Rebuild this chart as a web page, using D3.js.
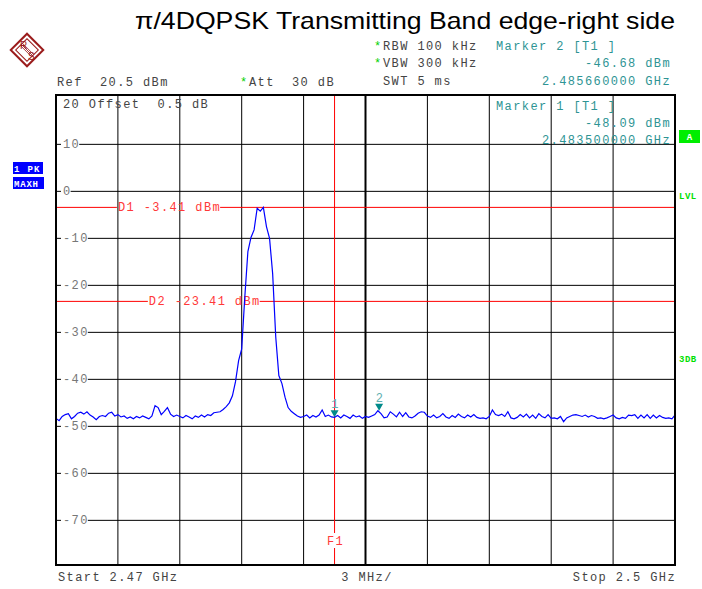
<!DOCTYPE html>
<html><head><meta charset="utf-8">
<script src="https://cdn.jsdelivr.net/npm/d3@7"></script>
<style>body{margin:0;background:#fff}</style>
</head><body><svg id="c" width="702" height="589"></svg>
<script>
// ---- data ----
const startGHz = 2.47, stopGHz = 2.5, refLevel = 20.5, bottomLevel = -79.5;
const freqGrid = [2.47, 2.473, 2.476, 2.479, 2.482, 2.485, 2.488, 2.491, 2.494, 2.497, 2.5];
const levelTicks = [10, 0, -10, -20, -30, -40, -50, -60, -70];
const levelTickLabels = ["10", "0", "-10", "-20", "-30", "-40", "-50", "-60", "-70"];
const traceLevels = [
-48.3,-48.8,-47.9,-47.5,-47.3,-48.4,-47.9,-47.2,-47.0,-47.4,
-46.9,-47.6,-48.0,-48.6,-47.9,-47.7,-47.9,-47.2,-47.0,-47.8,
-47.5,-48.0,-47.8,-48.3,-48.0,-48.4,-47.9,-48.2,-47.8,-48.1,
-48.4,-47.8,-45.6,-46.0,-47.5,-46.8,-46.0,-47.4,-47.9,-47.6,
-47.9,-48.2,-47.7,-48.0,-48.4,-47.8,-48.1,-47.6,-48.0,-47.5,
-47.7,-47.1,-47.0,-46.9,-46.4,
-45.8,-45.0,-43.5,-40.5,-36.0,-33.5,-22.5,-12.8,-9.8,-8.2,
-3.6,-4.2,-3.41,-7.5,-10.0,-17.5,-31.0,-39.2,-40.9,-43.8,
-46.0,-46.8,-47.3,-47.8,-48.1,-47.9,
-47.6,-48.2,-47.7,-48.0,-47.6,-46.5,-47.9,-47.6,-48.0,-48.09,
-47.7,-48.2,-47.6,-47.9,-48.3,-47.6,-48.0,-47.8,-48.3,-47.9,
-48.1,-47.8,-47.5,-46.68,-47.3,-48.2,-48.0,-46.9,-47.4,-48.0,
-47.0,-47.9,-47.1,-48.0,-48.2,-47.8,-47.2,-46.9,-47.0,-47.8,
-48.1,-47.6,-48.2,-47.9,-47.3,-48.0,-48.3,-47.7,-48.1,-47.4,
-47.9,-48.2,-47.6,-48.0,-47.5,
-48.1,-48.3,-48.2,-48.4,-47.9,-46.5,-47.5,-47.7,-47.4,-47.9,
-46.9,-48.2,-48.4,-48.1,-47.5,-48.0,-47.4,-48.2,-47.6,-48.3,
-47.3,-47.9,-48.2,-47.5,-48.3,-48.2,-48.4,-47.9,-49.0,-48.2,
-47.9,-47.6,-47.5,-47.7,-47.9,-47.6,-48.0,-47.7,-47.9,-48.3,
-48.2,-48.4,-48.2,-47.9,-47.6,-48.2,-48.4,-48.1,-48.3,-47.6,
-47.7,-47.5,-48.3,-47.6,-48.2,-47.5,-48.3,-47.6,-48.2,-47.7,
-48.1,-48.3,-48.2,-48.4,-47.6
];
const displayLineNames = ["D1", "D2"];
const displayLineLevels = [-3.41, -23.41];
const displayLineLabelFreq = [2.473, 2.4745];
const markerNumbers = [1, 2];
const markerFreqs = [2.4835, 2.48566];
const markerLevels = [-48.09, -46.68];
const freqLineName = "F1";
const freqLineValue = 2.4835;
const title = "π/4DQPSK Transmitting Band edge-right side";

// ---- layout ----
const svg = d3.select("#c");
const L = 56, R = 675, T = 95, B = 565;
const x = d3.scaleLinear().domain([startGHz, stopGHz]).range([L, R]);
const y = d3.scaleLinear().domain([refLevel, bottomLevel]).range([T, B]);
const mono = "'Liberation Mono', 'DejaVu Sans Mono', monospace";
const GRAY = "#444", TEAL = "#2e9494", RED = "#ff0000", LRED = "#ff3838";

function mtext(tx, ty, s, color, anchor) {
  return svg.append("text").attr("x", tx).attr("y", ty).text(s)
    .attr("font-family", mono).attr("font-size", 12).attr("letter-spacing", 1.4)
    .attr("fill", color).attr("text-anchor", anchor || "start")
    .style("white-space", "pre");
}

// title
svg.append("text").attr("x", 135).attr("y", 29).text(title)
  .attr("font-family", "'Liberation Sans', Arial, sans-serif").attr("font-size", 24)
  .attr("textLength", 540).attr("lengthAdjust", "spacingAndGlyphs").attr("fill", "#000");

// R&S logo
const lg = svg.append("g").attr("transform", "translate(27,50) rotate(45)");
lg.append("rect").attr("x", -11.5).attr("y", -11.5).attr("width", 23).attr("height", 23)
  .attr("fill", "none").attr("stroke", "#9b1c1c").attr("stroke-width", 2);
lg.append("rect").attr("x", -8).attr("y", -8).attr("width", 16).attr("height", 16)
  .attr("fill", "none").attr("stroke", "#9b1c1c").attr("stroke-width", 1);
[-1.5, 0, 1.5].forEach(d => lg.append("line").attr("x1", -8).attr("x2", 8).attr("y1", d).attr("y2", d)
  .attr("stroke", "#9b1c1c").attr("stroke-width", 0.8));
svg.append("text").attr("x", 20).attr("y", 49).text("R").attr("font-family", "'Liberation Sans', Arial")
  .attr("font-size", 10).attr("fill", "#9b1c1c");
svg.append("text").attr("x", 28).attr("y", 60).text("S").attr("font-family", "'Liberation Sans', Arial")
  .attr("font-size", 10).attr("fill", "#9b1c1c");

// header texts
mtext(57, 86, "Ref  20.5 dBm", GRAY);
mtext(240, 86, "*", "#00d000"); mtext(249, 86, "Att  30 dB", GRAY);
mtext(374, 50, "*", "#00d000"); mtext(383, 50, "RBW 100 kHz", GRAY);
mtext(374, 67, "*", "#00d000"); mtext(383, 67, "VBW 300 kHz", GRAY);
mtext(383, 85, "SWT 5 ms", GRAY);
mtext(496, 50, "Marker 2 [T1 ]", TEAL);
mtext(671, 67, "-46.68 dBm", TEAL, "end");
mtext(671, 85, "2.485660000 GHz", TEAL, "end");

// side boxes
svg.append("rect").attr("x", 13).attr("y", 162).attr("width", 30).attr("height", 12).attr("fill", "#0000ff");
svg.append("rect").attr("x", 13).attr("y", 177).attr("width", 31).attr("height", 12).attr("fill", "#0000ff");
svg.append("text").attr("x", 14).attr("y", 171.5).text("1 PK").attr("font-family", mono).attr("font-weight", "bold")
  .attr("font-size", 9).attr("letter-spacing", 1.3).attr("fill", "#fff").style("white-space", "pre");
svg.append("text").attr("x", 14).attr("y", 186.5).text("MAXH").attr("font-family", mono).attr("font-weight", "bold")
  .attr("font-size", 9).attr("letter-spacing", 0.8).attr("fill", "#fff");
svg.append("rect").attr("x", 679).attr("y", 130).attr("width", 21).attr("height", 13).attr("fill", "#00ee00");
svg.append("text").attr("x", 689.5).attr("y", 140).text("A").attr("font-family", mono).attr("font-weight", "bold")
  .attr("font-size", 9).attr("fill", "#fff").attr("text-anchor", "middle");
svg.append("text").attr("x", 679).attr("y", 199).text("LVL").attr("font-family", mono).attr("font-weight", "bold")
  .attr("font-size", 9).attr("letter-spacing", 0.5).attr("fill", "#00e000");
svg.append("text").attr("x", 679).attr("y", 362).text("3DB").attr("font-family", mono).attr("font-weight", "bold")
  .attr("font-size", 9).attr("letter-spacing", 0.5).attr("fill", "#00e000");

// grid
const grid = svg.append("g");
freqGrid.forEach((f, i) => {
  grid.append("line").attr("x1", x(f)).attr("x2", x(f)).attr("y1", T).attr("y2", B)
    .attr("stroke", "#000").attr("stroke-width", i === 5 ? 2 : 1);
});
levelTicks.forEach(v => {
  grid.append("line").attr("x1", L).attr("x2", R).attr("y1", y(v)).attr("y2", y(v))
    .attr("stroke", "#000").attr("stroke-width", 1);
});
// tick labels with gap in grid line
const tickG = svg.append("g");
levelTicks.forEach((v, i) => {
  const g = tickG.append("g");
  const bg = g.append("rect").attr("fill", "#fff");
  const t = g.append("text").attr("x", 63).attr("y", y(v) + 4).text(levelTickLabels[i])
    .attr("font-family", mono).attr("font-size", 12).attr("letter-spacing", 1.4).attr("fill", "#777");
  const w = t.node().getComputedTextLength();
  bg.attr("x", 61).attr("y", y(v) - 2).attr("width", w + 1).attr("height", 4);
});
mtext(63, 108, "20 Offset  0.5 dB", GRAY);

// display lines
displayLineNames.forEach((n, i) => {
  const yy = y(displayLineLevels[i]);
  const lx = x(displayLineLabelFreq[i]);
  const lbl = n + " " + displayLineLevels[i].toFixed(2) + " dBm";
  const t = mtext(lx, yy + 4, lbl, LRED);
  const w = t.node().getComputedTextLength();
  svg.append("line").attr("x1", L).attr("x2", lx - 1).attr("y1", yy).attr("y2", yy).attr("stroke", RED);
  svg.append("line").attr("x1", lx + w - 1).attr("x2", R).attr("y1", yy).attr("y2", yy).attr("stroke", RED);
});

// frequency line F1
const fx = x(freqLineValue);
svg.append("line").attr("x1", fx).attr("x2", fx).attr("y1", T).attr("y2", 533).attr("stroke", RED);
svg.append("line").attr("x1", fx).attr("x2", fx).attr("y1", 548).attr("y2", B).attr("stroke", RED);
mtext(fx + 1, 545, freqLineName, LRED, "middle");

// trace
const n = traceLevels.length;
const step = (stopGHz - startGHz) / (n - 1);
const line = d3.line().x((d, i) => x(startGHz + i * step)).y(d => y(d));
svg.append("path").datum(traceLevels).attr("d", line).attr("fill", "none")
  .attr("stroke", "#0000ff").attr("stroke-width", 1.2);

// markers
markerNumbers.forEach((m, i) => {
  const mx = x(markerFreqs[i]), my = y(markerLevels[i]);
  svg.append("path").attr("d", `M${mx - 4},${my - 7} L${mx + 4},${my - 7} L${mx},${my} Z`).attr("fill", "#008a8a");
  mtext(mx + 1, my - 9, String(m), "#5fb0b0", "middle");
});

// marker 1 info inside plot
mtext(496, 110, "Marker 1 [T1 ]", TEAL);
mtext(671, 127, "-48.09 dBm", TEAL, "end");
mtext(671, 144, "2.483500000 GHz", TEAL, "end");

// frame
svg.append("rect").attr("x", L).attr("y", T).attr("width", R - L).attr("height", B - T)
  .attr("fill", "none").attr("stroke", "#000").attr("stroke-width", 2);

// footer
mtext(58, 581, "Start 2.47 GHz", GRAY);
mtext(367, 581, "3 MHz/", GRAY, "middle");
mtext(676, 581, "Stop 2.5 GHz", GRAY, "end");
</script></body></html>
